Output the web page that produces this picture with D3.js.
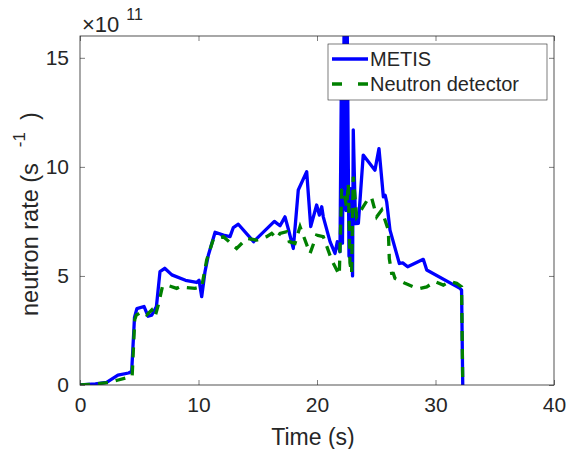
<!DOCTYPE html>
<html lang="en">
<head>
<meta charset="UTF-8">
<title>neutron rate</title>
<style>
  body { margin: 0; background: #fff; }
  svg text { font-family: "Liberation Sans", Arial, Helvetica, sans-serif; fill: #262626; }
</style>
</head>
<body>
<script src="https://cdn.jsdelivr.net/npm/d3@7"></script>
<script>
// data (rate in units of 1e11 s^-1)
var metisTime = [0, 1.3, 2.25, 3.2, 4.1, 4.36, 4.6, 4.8, 5.4, 5.75, 6.05, 6.45, 6.75, 7.15, 7.75, 8.9, 9.85, 10.05, 10.27, 10.55, 10.83, 11.4, 12.1, 12.66, 12.94, 13.36, 14.65, 16.4, 16.88, 17.3, 17.58, 18.0, 18.42, 19.13, 19.47, 19.97, 20.2, 20.4, 20.53, 21.1, 21.52, 21.71, 21.94, 22.05, 22.15, 22.3, 22.45, 22.55, 22.7, 22.85, 23.0, 23.06, 23.25, 23.49, 23.9, 24.89, 25.23, 25.6, 25.75, 25.88, 26.16, 26.95, 27.23, 27.65, 28.97, 29.26, 32.07, 32.2, 32.3];
var metisRate = [0, 0.05, 0.12, 0.45, 0.55, 0.62, 3.1, 3.5, 3.6, 3.15, 3.2, 3.6, 5.2, 5.35, 5.05, 4.8, 4.7, 4.8, 4.05, 5.2, 5.95, 7.0, 6.87, 6.8, 7.22, 7.37, 6.57, 7.5, 7.3, 7.71, 7.15, 6.26, 8.94, 9.78, 7.26, 8.25, 7.79, 8.17, 7.71, 6.57, 6.03, 6.57, 6.11, 13.5, 6.5, 17.5, 8.0, 16.5, 5.9, 9.0, 5.0, 11.7, 7.4, 7.41, 10.54, 9.85, 10.84, 8.63, 8.7, 8.4, 7.1, 5.57, 5.6, 5.42, 5.76, 5.27, 4.43, 4.35, 0];

var detTime = [0, 1.3, 2.5, 3.23, 4.4, 4.62, 4.75, 5.2, 5.63, 6.05, 6.33, 6.61, 6.95, 7.32, 8.16, 8.44, 9.7, 10.27, 10.69, 11.25, 12.1, 13.22, 14.07, 14.91, 15.75, 16.18, 16.6, 16.88, 17.44, 17.66, 18.14, 18.57, 19.41, 19.97, 20.53, 21.24, 21.88, 22.08, 22.22, 22.5, 22.64, 22.78, 22.92, 23.06, 23.35, 23.77, 24.33, 24.6, 25.04, 25.46, 26.02, 26.1, 26.3, 26.44, 26.58, 27.43, 28.13, 28.69, 29.26, 29.96, 30.66, 31.22, 31.79, 32.2, 32.3];
var detRate = [0, 0.05, 0.12, 0.23, 0.4, 3.0, 3.2, 3.36, 3.21, 3.44, 3.13, 3.67, 4.5, 4.58, 4.43, 4.5, 4.43, 4.5, 5.73, 6.68, 6.8, 6.26, 6.72, 6.64, 6.8, 6.95, 6.72, 6.95, 7.03, 6.57, 6.49, 7.26, 6.03, 6.87, 6.8, 5.73, 5.04, 8.94, 9.0, 8.17, 9.24, 5.6, 5.12, 9.55, 7.71, 8.06, 8.55, 8.6, 7.71, 8.02, 7.1, 5.8, 5.12, 5.12, 4.89, 4.66, 4.5, 4.43, 4.5, 4.74, 4.58, 4.74, 4.66, 4.5, 0];

var xTicks = [0, 10, 20, 30, 40];
var yTicks = [0, 5, 10, 15];
var seriesNames = ["METIS", "Neutron detector"];
var seriesColors = ["#0000ff", "#008000"];

var margin = { top: 36, right: 12, bottom: 64, left: 80 },
    width = 566 - margin.left - margin.right,
    height = 449 - margin.top - margin.bottom;

var svg = d3.select("body").append("svg")
    .attr("width", 566)
    .attr("height", 449);

var g = svg.append("g")
    .attr("transform", "translate(" + margin.left + "," + margin.top + ")");

var x = d3.scaleLinear().domain([0, 40]).range([0, width]);
var y = d3.scaleLinear().domain([0, 16]).range([height, 0]);

g.append("clipPath").attr("id", "clip")
    .append("rect").attr("width", width).attr("height", height);

// lines
var line = d3.line()
    .x(function (d) { return x(d[0]); })
    .y(function (d) { return y(d[1]); });

var metis = d3.zip(metisTime, metisRate);
var det = d3.zip(detTime, detRate);

g.append("path")
    .datum(metis)
    .attr("clip-path", "url(#clip)")
    .attr("d", line)
    .style("fill", "none")
    .style("stroke", seriesColors[0])
    .style("stroke-width", 3.3)
    .style("stroke-linejoin", "round");

g.append("path")
    .datum(det)
    .attr("clip-path", "url(#clip)")
    .attr("d", line)
    .style("fill", "none")
    .style("stroke", seriesColors[1])
    .style("stroke-width", 3.3)
    .style("stroke-dasharray", "10,8");

// axes, ticks pointing inward
g.append("g")
    .attr("transform", "translate(0," + height + ")")
    .call(d3.axisBottom(x).tickValues(xTicks).tickSize(-5).tickPadding(12));
g.append("g")
    .call(d3.axisTop(x).tickValues(xTicks).tickSize(-5).tickFormat(""));
g.append("g")
    .call(d3.axisLeft(y).tickValues(yTicks).tickSize(-5).tickPadding(11));
g.append("g")
    .attr("transform", "translate(" + width + ",0)")
    .call(d3.axisRight(y).tickValues(yTicks).tickSize(-5).tickFormat(""));

g.selectAll(".domain").remove();
g.selectAll(".tick line").style("stroke", "#262626").style("stroke-width", 0.6);
g.selectAll(".tick text").style("font-size", "21px").style("fill", "#262626");

g.append("rect")
    .attr("width", width)
    .attr("height", height)
    .style("fill", "none")
    .style("stroke", "#262626")
    .style("stroke-width", 0.8);

// exponent
var expo = svg.append("text").attr("x", 82).attr("y", 32).style("font-size", "22px");
expo.append("tspan").text("\u00d710");
expo.append("tspan").attr("dx", 7).attr("dy", -12).style("font-size", "16px").text("11");

// axis labels
svg.append("text")
    .attr("x", margin.left + width / 2 - 4)
    .attr("y", 445)
    .style("text-anchor", "middle")
    .style("font-size", "23px")
    .text("Time (s)");

var yl = svg.append("text")
    .attr("transform", "translate(38,316) rotate(-90)")
    .style("font-size", "23.5px");
yl.append("tspan").text("neutron rate (s");
yl.append("tspan").attr("dx", 16).attr("dy", -13).style("font-size", "17px").text("-1");
yl.append("tspan").attr("dx", 12).attr("dy", 13).text(")");

// legend
var leg = svg.append("g");
leg.append("rect")
    .attr("x", 328).attr("y", 44).attr("width", 219).attr("height", 56)
    .style("fill", "#fff").style("stroke", "#262626").style("stroke-width", 0.6);
seriesNames.forEach(function (name, i) {
    var ly = 59 + i * 25;
    leg.append("line")
        .attr("x1", 332).attr("x2", 368).attr("y1", ly).attr("y2", ly)
        .style("stroke", seriesColors[i]).style("stroke-width", 3.3)
        .style("stroke-dasharray", i === 1 ? "10,16" : null);
    leg.append("text")
        .attr("x", 370).attr("y", ly + 7)
        .style("font-size", "20px")
        .text(name);
});
</script>
</body>
</html>
